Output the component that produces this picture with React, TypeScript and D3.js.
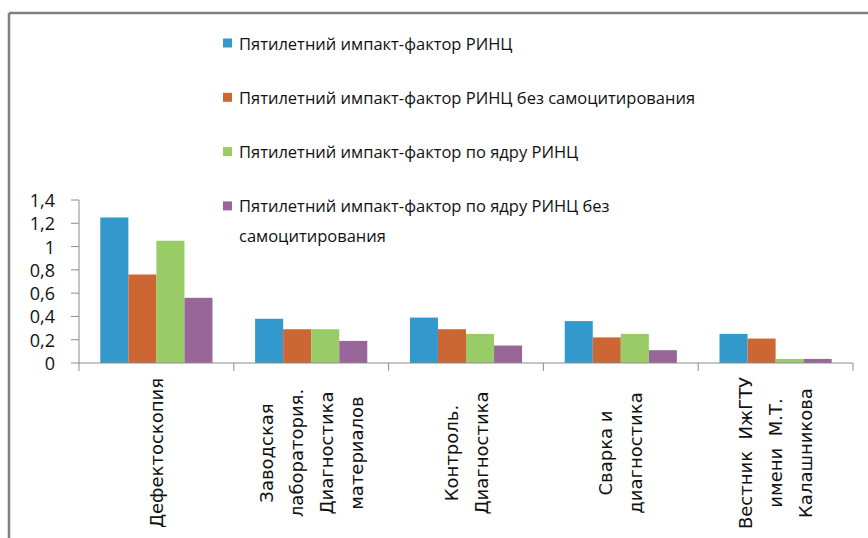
import * as d3 from "d3";

const width = 868;
const height = 538;
const margin = { top: 200, right: 15, bottom: 175, left: 79 };

const categories = [
  ["Дефектоскопия"],
  ["Заводская", "лаборатория.", "Диагностика", "материалов"],
  ["Контроль.", "Диагностика"],
  ["Сварка и", "диагностика"],
  ["Вестник  ИжГТУ", "имени  М.Т.", "Калашникова"],
];
const seriesNames = [
  ["Пятилетний импакт-фактор РИНЦ"],
  ["Пятилетний импакт-фактор РИНЦ без самоцитирования"],
  ["Пятилетний импакт-фактор по ядру РИНЦ"],
  ["Пятилетний импакт-фактор по ядру РИНЦ без", "самоцитирования"],
];
const colors = ["#3399cc", "#cc6633", "#99cc66", "#996699"];
const rincValues = [1.25, 0.38, 0.39, 0.36, 0.25];
const rincNoSelfValues = [0.76, 0.29, 0.29, 0.22, 0.21];
const coreValues = [1.05, 0.29, 0.25, 0.25, 0.035];
const coreNoSelfValues = [0.56, 0.19, 0.15, 0.11, 0.035];
const yTicks = [0, 0.2, 0.4, 0.6, 0.8, 1, 1.2, 1.4];

const allValues = [rincValues, rincNoSelfValues, coreValues, coreNoSelfValues];

export default function App() {
  const keys = categories.map((c) => c.join(" "));
  const x0 = d3.scaleBand().domain(keys).range([margin.left, width - margin.right]);
  const x1 = d3
    .scaleBand()
    .domain(d3.range(seriesNames.length).map(String))
    .range([0, x0.bandwidth()])
    .paddingOuter(0.76);
  const y = d3.scaleLinear().domain([0, 1.4]).range([height - margin.bottom, margin.top]);
  const fmt = (v: number) => String(v).replace(".", ",");
  const axisColor = "#8c8c8c";
  const baseY = y(0);
  const labelMid = 453;
  const lineGap = 30;

  return (
    <svg
      width={width}
      height={height}
      style={{ position: "absolute", left: 0, top: 0, background: "#fff" }}
    >
      {/* frame */}
      <line x1={9} x2={width} y1={13} y2={13} stroke="#808080" strokeWidth={2.5} />
      <line x1={9} x2={9} y1={13} y2={height} stroke="#808080" strokeWidth={2.5} />

      {/* bars */}
      {allValues.map((vals, si) =>
        vals.map((v, ci) => (
          <rect
            key={`${si}-${ci}`}
            x={(x0(keys[ci]) as number) + (x1(String(si)) as number)}
            y={y(v)}
            width={x1.bandwidth()}
            height={baseY - y(v)}
            fill={colors[si]}
          />
        ))
      )}

      {/* y axis */}
      <line x1={margin.left} x2={margin.left} y1={y(1.4)} y2={baseY + 8} stroke={axisColor} />
      {yTicks.map((t) => (
        <g key={t}>
          <line x1={margin.left - 8} x2={margin.left} y1={y(t)} y2={y(t)} stroke={axisColor} />
          <text
            x={55}
            y={y(t)}
            textAnchor="end"
            dominantBaseline="central"
            fontFamily="Open Sans"
            fontSize={18}
            fill="#111"
          >
            {fmt(t)}
          </text>
        </g>
      ))}

      {/* x axis */}
      <line x1={margin.left} x2={width - margin.right} y1={baseY} y2={baseY} stroke={axisColor} />
      {keys.map((k) => (
        <line
          key={k}
          x1={(x0(k) as number) + x0.bandwidth()}
          x2={(x0(k) as number) + x0.bandwidth()}
          y1={baseY}
          y2={baseY + 8}
          stroke={axisColor}
        />
      ))}
      {categories.map((lines, ci) => {
        const cx = (x0(keys[ci]) as number) + x0.bandwidth() / 2;
        return lines.map((ln, li) => {
          const lx = cx + (li - (lines.length - 1) / 2) * lineGap;
          return (
            <text
              key={`${ci}-${li}`}
              x={lx}
              y={labelMid}
              transform={`rotate(-90, ${lx}, ${labelMid})`}
              textAnchor="middle"
              dominantBaseline="central"
              fontFamily="DejaVu Sans"
              fontSize={18}
              fill="#111"
              style={{ whiteSpace: "pre" }}
            >
              {ln}
            </text>
          );
        });
      })}

      {/* legend */}
      {seriesNames.map((lines, si) => {
        const ly = 43 + si * 54.3;
        return (
          <g key={si}>
            <rect x={223} y={ly - 4.5} width={9} height={9} fill={colors[si]} />
            {lines.map((ln, li) => (
              <text
                key={li}
                x={239}
                y={ly + li * 30}
                dominantBaseline="central"
                fontFamily="Open Sans"
                fontSize={16.5}
                fill="#111"
              >
                {ln}
              </text>
            ))}
          </g>
        );
      })}
    </svg>
  );
}
